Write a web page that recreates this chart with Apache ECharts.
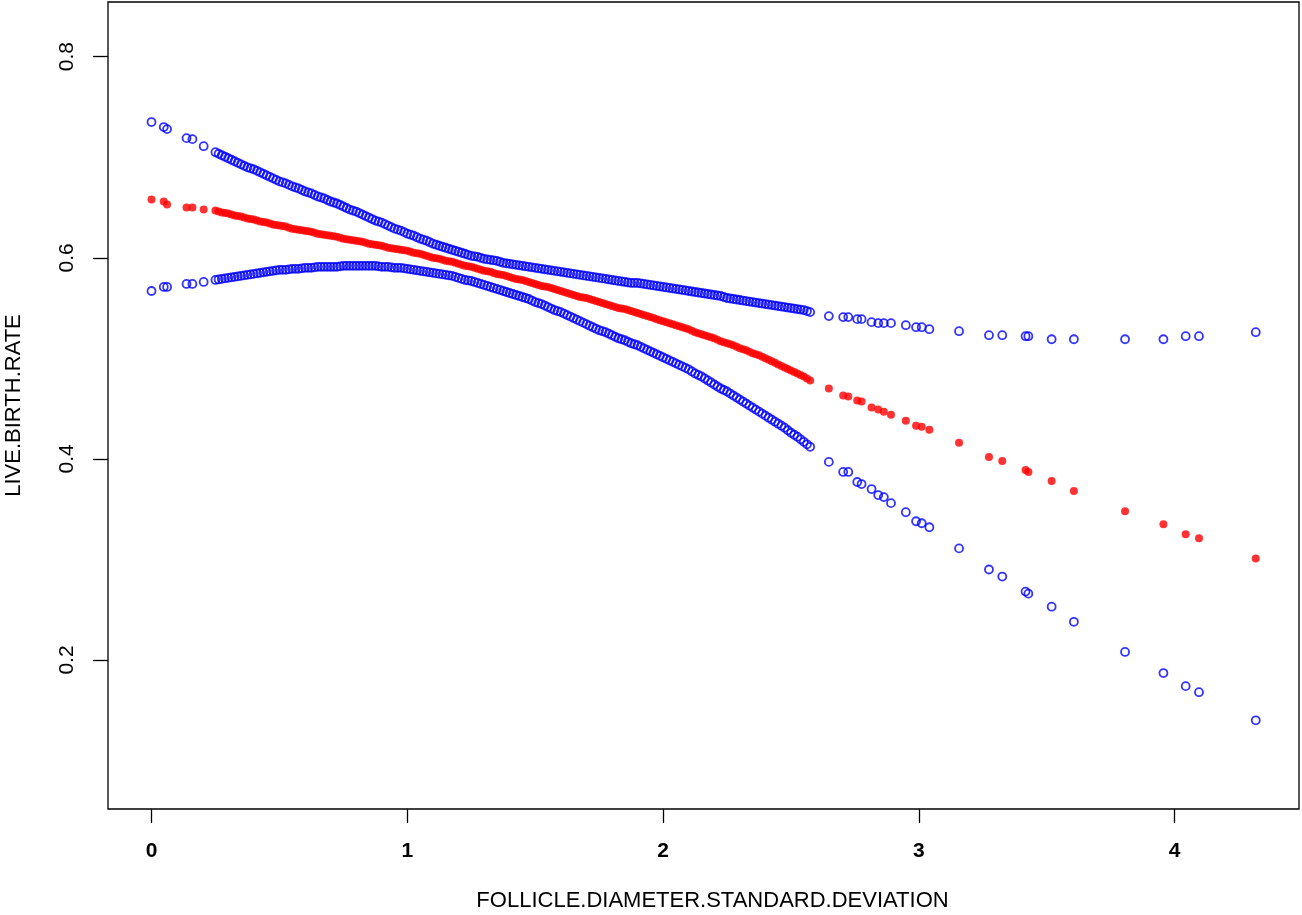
<!DOCTYPE html>
<html>
<head>
<meta charset="utf-8">
<script src="https://cdn.jsdelivr.net/npm/echarts@6/dist/echarts.min.js"></script>
<style>
html,body{margin:0;padding:0;background:#fff;}
#chart{width:1302px;height:915px;}
</style>
</head>
<body>
<div id="chart"></div>
<script>
// ---- data ----
const xTicks = [0, 1, 2, 3, 4];
const yTicks = [0.2, 0.4, 0.6, 0.8];
const xTitle = 'FOLLICLE.DIAMETER.STANDARD.DEVIATION';
const yTitle = 'LIVE.BIRTH.RATE';

// x positions: sparse start, dense middle, sparse tail
const xStart = [0, 0.048, 0.061, 0.137, 0.160, 0.204];
const xDense = [
  0.25, 0.2625, 0.275, 0.2875, 0.3, 0.3125, 0.325, 0.3375,
  0.35, 0.3625, 0.375, 0.3875, 0.4, 0.4125, 0.425, 0.4375,
  0.45, 0.4625, 0.475, 0.4875, 0.5, 0.5125, 0.525, 0.5375,
  0.55, 0.5625, 0.575, 0.5875, 0.6, 0.6125, 0.625, 0.6375,
  0.65, 0.6625, 0.675, 0.6875, 0.7, 0.7125, 0.725, 0.7375,
  0.75, 0.7625, 0.775, 0.7875, 0.8, 0.8125, 0.825, 0.8375,
  0.85, 0.8625, 0.875, 0.8875, 0.9, 0.9125, 0.925, 0.9375,
  0.95, 0.9625, 0.975, 0.9875, 1.0, 1.0125, 1.025, 1.0375,
  1.05, 1.0625, 1.075, 1.0875, 1.1, 1.1125, 1.125, 1.1375,
  1.15, 1.1625, 1.175, 1.1875, 1.2, 1.2125, 1.225, 1.2375,
  1.25, 1.2625, 1.275, 1.2875, 1.3, 1.3125, 1.325, 1.3375,
  1.35, 1.3625, 1.375, 1.3875, 1.4, 1.4125, 1.425, 1.4375,
  1.45, 1.4625, 1.475, 1.4875, 1.5, 1.5125, 1.525, 1.5375,
  1.55, 1.5625, 1.575, 1.5875, 1.6, 1.6125, 1.625, 1.6375,
  1.65, 1.6625, 1.675, 1.6875, 1.7, 1.7125, 1.725, 1.7375,
  1.75, 1.7625, 1.775, 1.7875, 1.8, 1.8125, 1.825, 1.8375,
  1.85, 1.8625, 1.875, 1.8875, 1.9, 1.9125, 1.925, 1.9375,
  1.95, 1.9625, 1.975, 1.9875, 2.0, 2.0125, 2.025, 2.0375,
  2.05, 2.0625, 2.075, 2.0875, 2.1, 2.1125, 2.125, 2.1375,
  2.15, 2.1625, 2.175, 2.1875, 2.2, 2.2125, 2.225, 2.2375,
  2.25, 2.2625, 2.275, 2.2875, 2.3, 2.3125, 2.325, 2.3375,
  2.35, 2.3625, 2.375, 2.3875, 2.4, 2.4125, 2.425, 2.4375,
  2.45, 2.4625, 2.475, 2.4875, 2.5, 2.5125, 2.525, 2.5375,
  2.55, 2.5625, 2.575
];
const xTail = [
  2.648, 2.704, 2.724, 2.759, 2.776, 2.815, 2.841, 2.863, 2.891, 2.949,
  2.989, 3.011, 3.041, 3.157, 3.274, 3.326, 3.417, 3.428, 3.519, 3.606,
  3.806, 3.956, 4.043, 4.095, 4.317
];

// fitted live birth rate (red dots)
const fitStart = [0.658, 0.656, 0.653, 0.650, 0.650, 0.648];
const fitDense = [
  0.647, 0.646, 0.645, 0.6445, 0.644, 0.643, 0.642, 0.6415,
  0.641, 0.640, 0.639, 0.6385, 0.638, 0.637, 0.636, 0.6355,
  0.635, 0.634, 0.633, 0.6325, 0.632, 0.6315, 0.631, 0.630,
  0.629, 0.6285, 0.628, 0.6275, 0.627, 0.6265, 0.626, 0.625,
  0.624, 0.6235, 0.623, 0.6225, 0.622, 0.6215, 0.621, 0.620,
  0.619, 0.6185, 0.618, 0.6175, 0.617, 0.6165, 0.616, 0.615,
  0.614, 0.6135, 0.613, 0.6125, 0.612, 0.611, 0.610, 0.6095,
  0.609, 0.6085, 0.608, 0.6075, 0.607, 0.606, 0.605, 0.6045,
  0.604, 0.603, 0.602, 0.601, 0.600, 0.5995, 0.599, 0.598,
  0.597, 0.5965, 0.596, 0.595, 0.594, 0.593, 0.592, 0.5915,
  0.591, 0.590, 0.589, 0.588, 0.587, 0.5865, 0.586, 0.585,
  0.584, 0.5835, 0.583, 0.582, 0.581, 0.580, 0.579, 0.5785,
  0.578, 0.577, 0.576, 0.575, 0.574, 0.573, 0.572, 0.5715,
  0.571, 0.570, 0.569, 0.568, 0.567, 0.566, 0.565, 0.564,
  0.563, 0.562, 0.561, 0.5605, 0.560, 0.559, 0.558, 0.557,
  0.556, 0.555, 0.554, 0.553, 0.552, 0.551, 0.550, 0.5495,
  0.549, 0.548, 0.547, 0.546, 0.545, 0.544, 0.543, 0.542,
  0.541, 0.540, 0.539, 0.538, 0.537, 0.536, 0.535, 0.534,
  0.533, 0.532, 0.531, 0.530, 0.529, 0.5275, 0.526, 0.525,
  0.524, 0.523, 0.522, 0.521, 0.520, 0.5185, 0.517, 0.516,
  0.515, 0.514, 0.513, 0.5115, 0.510, 0.509, 0.508, 0.5065,
  0.505, 0.504, 0.503, 0.5015, 0.500, 0.4985, 0.497, 0.4955,
  0.494, 0.4925, 0.491, 0.4895, 0.488, 0.4865, 0.485, 0.4835,
  0.482, 0.480, 0.478
];
const fitTail = [
  0.470, 0.463, 0.462, 0.458, 0.457, 0.451, 0.449, 0.447, 0.444, 0.438,
  0.433, 0.432, 0.429, 0.416, 0.402, 0.398, 0.389, 0.387, 0.378, 0.368,
  0.348, 0.335, 0.325, 0.321, 0.301
];

// lower confidence bound (blue circles)
const lowerStart = [0.567, 0.571, 0.571, 0.574, 0.574, 0.576];
const lowerDense = [
  0.578, 0.5785, 0.579, 0.5795, 0.580, 0.5805, 0.581, 0.5815,
  0.582, 0.5825, 0.583, 0.5835, 0.584, 0.5845, 0.585, 0.5855,
  0.586, 0.5865, 0.587, 0.5875, 0.588, 0.588, 0.588, 0.5885,
  0.589, 0.589, 0.589, 0.5895, 0.590, 0.590, 0.590, 0.5905,
  0.591, 0.591, 0.591, 0.591, 0.591, 0.591, 0.591, 0.5915,
  0.592, 0.592, 0.592, 0.592, 0.592, 0.592, 0.592, 0.592,
  0.592, 0.592, 0.592, 0.5915, 0.591, 0.591, 0.591, 0.5905,
  0.590, 0.590, 0.590, 0.5895, 0.589, 0.5885, 0.588, 0.5875,
  0.587, 0.5865, 0.586, 0.5855, 0.585, 0.5845, 0.584, 0.5835,
  0.583, 0.5825, 0.582, 0.581, 0.580, 0.579, 0.578, 0.5775,
  0.577, 0.576, 0.575, 0.574, 0.573, 0.572, 0.571, 0.570,
  0.569, 0.568, 0.567, 0.566, 0.565, 0.564, 0.563, 0.562,
  0.561, 0.560, 0.559, 0.5575, 0.556, 0.555, 0.554, 0.5525,
  0.551, 0.5495, 0.548, 0.547, 0.546, 0.5445, 0.543, 0.5415,
  0.540, 0.5385, 0.537, 0.5355, 0.534, 0.5325, 0.531, 0.5295,
  0.528, 0.527, 0.526, 0.5245, 0.523, 0.5215, 0.520, 0.519,
  0.518, 0.5165, 0.515, 0.514, 0.513, 0.5115, 0.510, 0.5085,
  0.507, 0.5055, 0.504, 0.5025, 0.501, 0.4995, 0.498, 0.4965,
  0.495, 0.4935, 0.492, 0.4905, 0.489, 0.487, 0.485, 0.4835,
  0.482, 0.480, 0.478, 0.476, 0.474, 0.472, 0.470, 0.4685,
  0.467, 0.465, 0.463, 0.461, 0.459, 0.457, 0.455, 0.453,
  0.451, 0.449, 0.447, 0.445, 0.443, 0.441, 0.439, 0.437,
  0.435, 0.433, 0.431, 0.4285, 0.426, 0.424, 0.422, 0.4195,
  0.417, 0.4145, 0.412
];
const lowerTail = [
  0.397, 0.387, 0.387, 0.377, 0.375, 0.370, 0.364, 0.362, 0.356, 0.347,
  0.338, 0.336, 0.332, 0.311, 0.290, 0.283, 0.268, 0.266, 0.253, 0.238,
  0.208, 0.187, 0.174, 0.168, 0.140
];

// upper confidence bound (blue circles)
const upperStart = [0.735, 0.730, 0.728, 0.719, 0.718, 0.711];
const upperDense = [
  0.705, 0.7035, 0.702, 0.7005, 0.699, 0.6975, 0.696, 0.6945,
  0.693, 0.6915, 0.690, 0.689, 0.688, 0.6865, 0.685, 0.6835,
  0.682, 0.6805, 0.679, 0.6775, 0.676, 0.675, 0.674, 0.6725,
  0.671, 0.670, 0.669, 0.6675, 0.666, 0.665, 0.664, 0.6625,
  0.661, 0.660, 0.659, 0.6575, 0.656, 0.655, 0.654, 0.6525,
  0.651, 0.6495, 0.648, 0.647, 0.646, 0.6445, 0.643, 0.6415,
  0.640, 0.6385, 0.637, 0.636, 0.635, 0.6335, 0.632, 0.6305,
  0.629, 0.628, 0.627, 0.6255, 0.624, 0.623, 0.622, 0.6205,
  0.619, 0.618, 0.617, 0.6155, 0.614, 0.613, 0.612, 0.611,
  0.610, 0.609, 0.608, 0.607, 0.606, 0.605, 0.604, 0.603,
  0.602, 0.6015, 0.601, 0.600, 0.599, 0.5985, 0.598, 0.5975,
  0.597, 0.596, 0.595, 0.5945, 0.594, 0.5935, 0.593, 0.5925,
  0.592, 0.5915, 0.591, 0.5905, 0.590, 0.5895, 0.589, 0.5885,
  0.588, 0.5875, 0.587, 0.5865, 0.586, 0.5855, 0.585, 0.5845,
  0.584, 0.5835, 0.583, 0.5825, 0.582, 0.5815, 0.581, 0.5805,
  0.580, 0.5795, 0.579, 0.5785, 0.578, 0.5775, 0.577, 0.5765,
  0.576, 0.5755, 0.575, 0.575, 0.575, 0.5745, 0.574, 0.5735,
  0.573, 0.5725, 0.572, 0.5715, 0.571, 0.5705, 0.570, 0.5695,
  0.569, 0.5685, 0.568, 0.5675, 0.567, 0.5665, 0.566, 0.5655,
  0.565, 0.5645, 0.564, 0.5635, 0.563, 0.5625, 0.562, 0.561,
  0.560, 0.5595, 0.559, 0.5585, 0.558, 0.5575, 0.557, 0.5565,
  0.556, 0.5555, 0.555, 0.5545, 0.554, 0.5535, 0.553, 0.5525,
  0.552, 0.5515, 0.551, 0.5505, 0.550, 0.5495, 0.549, 0.5485,
  0.548, 0.547, 0.546
];
const upperTail = [
  0.542, 0.541, 0.541, 0.539, 0.539, 0.536, 0.535, 0.535, 0.535, 0.533,
  0.531, 0.531, 0.529, 0.527, 0.523, 0.523, 0.522, 0.522, 0.519, 0.519,
  0.519, 0.519, 0.522, 0.522, 0.526
];

// ---- chart ----
const xVals = xStart.concat(xDense, xTail);
const fitVals = fitStart.concat(fitDense, fitTail);
const lowerVals = lowerStart.concat(lowerDense, lowerTail);
const upperVals = upperStart.concat(upperDense, upperTail);
const pairs = vals => xVals.map((x, i) => [x, vals[i]]);

const FONT = '"Liberation Sans", Arial, sans-serif';
const chart = echarts.init(document.getElementById('chart'), null, {renderer: 'canvas'});

const blueStyle = {color: 'rgba(0,0,0,0)', borderColor: '#0000ff', borderWidth: 1.8};

chart.setOption({
  animation: false,
  backgroundColor: '#ffffff',
  grid: {
    left: 108, top: 2, right: 3, bottom: 106,
    containLabel: false,
    outerBoundsMode: 'none',
    show: true, borderColor: '#000000', borderWidth: 1.3, backgroundColor: 'transparent'
  },
  xAxis: {
    type: 'value',
    min: -0.17, max: 4.486,
    splitLine: {show: false},
    axisLine: {show: false, onZero: false},
    axisTick: {show: true, inside: false, length: 14, customValues: xTicks,
      lineStyle: {color: '#000', width: 1.3}},
    axisLabel: {show: true, customValues: xTicks, margin: 32,
      fontFamily: FONT, fontSize: 21, fontWeight: 'bold', color: '#000'},
    name: xTitle,
    nameLocation: 'middle',
    nameGap: 81,
    nameTextStyle: {fontFamily: FONT, fontSize: 22, color: '#000', padding: [0, 0, 0, 18]}
  },
  yAxis: {
    type: 'value',
    min: 0.0518, max: 0.8544,
    splitLine: {show: false},
    axisLine: {show: false, onZero: false},
    axisTick: {show: true, inside: false, length: 15, customValues: yTicks,
      lineStyle: {color: '#000', width: 1.3}},
    axisLabel: {show: true, customValues: yTicks, margin: 30, rotate: 90,
      formatter: v => v.toFixed(1),
      fontFamily: FONT, fontSize: 21, color: '#000'},
    name: yTitle,
    nameLocation: 'middle',
    nameGap: 83,
    nameTextStyle: {fontFamily: FONT, fontSize: 22, color: '#000'}
  },
  series: [
    {
      name: 'fit', type: 'scatter', data: pairs(fitVals),
      symbol: 'circle', symbolSize: 8,
      itemStyle: {color: '#ff0000'}, silent: true, z: 2
    },
    {
      name: 'lower', type: 'scatter', data: pairs(lowerVals),
      symbol: 'circle', symbolSize: 8,
      itemStyle: blueStyle, silent: true, z: 3
    },
    {
      name: 'upper', type: 'scatter', data: pairs(upperVals),
      symbol: 'circle', symbolSize: 8,
      itemStyle: blueStyle, silent: true, z: 3
    }
  ]
});
</script>
</body>
</html>
